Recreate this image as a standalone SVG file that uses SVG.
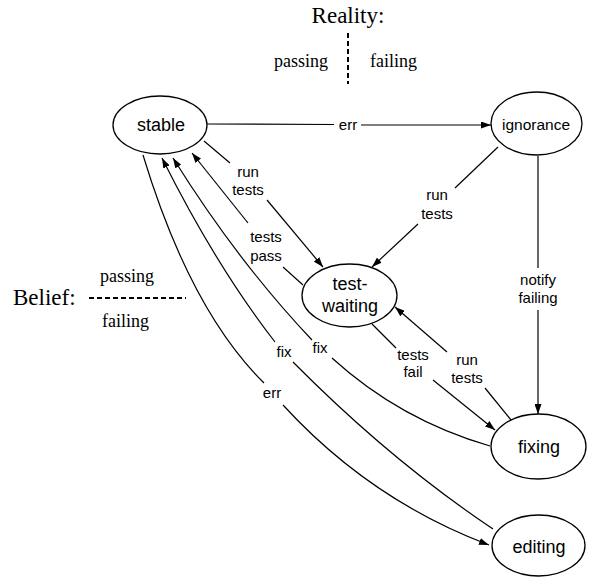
<svg xmlns="http://www.w3.org/2000/svg" width="590" height="577" viewBox="0 0 590 577">
<style>
.node ellipse{fill:#fff;stroke:#000;stroke-width:1.3}
.nt{font-family:"Liberation Sans",Arial,sans-serif;font-size:18px;text-anchor:middle;fill:#000}
.el{font-family:"Liberation Sans",Arial,sans-serif;font-size:15px;text-anchor:middle;fill:#000}
.tt{font-family:"Liberation Serif","Times New Roman",serif;fill:#000}
.e{fill:none;stroke:#000;stroke-width:1.2}
.dash{fill:none;stroke:#000;stroke-width:2;stroke-dasharray:5,3}
</style>
<defs>
<marker id="ah" viewBox="0 0 10 7" refX="10" refY="3.5" markerWidth="10" markerHeight="7" markerUnits="userSpaceOnUse" orient="auto">
<path d="M0,0 L10,3.5 L0,7 z" fill="#000"/>
</marker>
</defs>
<rect width="590" height="577" fill="#fff"/>
<g id="legend">
<text class="tt" x="348" y="23" font-size="23" text-anchor="middle">Reality:</text>
<line class="dash" x1="348" y1="33" x2="348" y2="84"/>
<text class="tt" x="274" y="67" font-size="18">passing</text>
<text class="tt" x="370" y="67" font-size="18">failing</text>
<text class="tt" x="13" y="305" font-size="23">Belief:</text>
<line class="dash" x1="89" y1="298" x2="186" y2="298"/>
<text class="tt" x="100" y="282" font-size="18">passing</text>
<text class="tt" x="102" y="327" font-size="18">failing</text>
</g>
<g id="connectors">
<path class="e" d="M207,124 L334,124.5"/>
<path class="e" d="M361,125 L491,125" marker-end="url(#ah)"/>
<text class="el" x="348" y="130">err</text>

<path class="e" d="M498,147 L455,188"/>
<path class="e" d="M418,224 L372,267" marker-end="url(#ah)"/>
<text class="el" x="437" y="200">run</text>
<text class="el" x="437" y="219">tests</text>

<path class="e" d="M538,156 L538,268"/>
<path class="e" d="M538,310 L538,414" marker-end="url(#ah)"/>
<text class="el" x="538" y="285">notify</text>
<text class="el" x="538" y="303">failing</text>

<path class="e" d="M204,141 L230,163"/>
<path class="e" d="M267,200 L323,267" marker-end="url(#ah)"/>
<text class="el" x="248" y="177">run</text>
<text class="el" x="248" y="195">tests</text>

<path class="e" d="M303,285 L283,267"/>
<path class="e" d="M248,223 L192,153" marker-end="url(#ah)"/>
<text class="el" x="266" y="242">tests</text>
<text class="el" x="266" y="261">pass</text>

<path class="e" d="M372,324 L396,348"/>
<path class="e" d="M433,380 L495,430" marker-end="url(#ah)"/>
<text class="el" x="413" y="360">tests</text>
<text class="el" x="413" y="377">fail</text>

<path class="e" d="M511,420 L485,388"/>
<path class="e" d="M447,352 L395,307" marker-end="url(#ah)"/>
<text class="el" x="467" y="365">run</text>
<text class="el" x="467" y="383">tests</text>

<path class="e" d="M490,446 Q400,420 332,358"/>
<path class="e" d="M312,340 Q238,262 173,158" marker-end="url(#ah)"/>
<text class="el" x="320" y="353">fix</text>

<path class="e" d="M493,529 Q390,460 293,362"/>
<path class="e" d="M275,342 Q216,266 162,158" marker-end="url(#ah)"/>
<text class="el" x="284" y="357">fix</text>

<path class="e" d="M143,155 Q190,310 264,383"/>
<path class="e" d="M283,405 Q370,500 489,545" marker-end="url(#ah)"/>
<text class="el" x="272" y="398">err</text>
</g>
<g id="stable" class="node">
<ellipse cx="160" cy="125" rx="47" ry="29"/>
<text class="nt" x="161" y="131">stable</text>
</g>
<g id="ignorance" class="node">
<ellipse cx="536.5" cy="123.5" rx="45.5" ry="31.5"/>
<text class="nt" x="536" y="130" style="font-size:15.5px">ignorance</text>
</g>
<g id="test-waiting" class="node">
<ellipse cx="349.5" cy="295.5" rx="47.5" ry="31.5"/>
<text class="nt" x="350" y="290">test-</text>
<text class="nt" x="350" y="312">waiting</text>
</g>
<g id="fixing" class="node">
<ellipse cx="538.5" cy="446.5" rx="47.5" ry="32.5"/>
<text class="nt" x="539" y="453">fixing</text>
</g>
<g id="editing" class="node">
<ellipse cx="538.5" cy="545.5" rx="46.5" ry="30.5"/>
<text class="nt" x="539" y="553">editing</text>
</g>
</svg>
